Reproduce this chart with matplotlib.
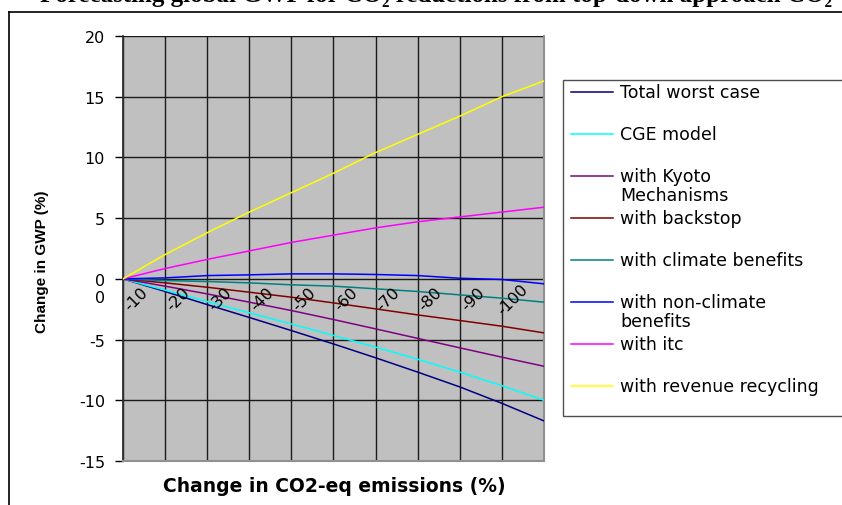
import matplotlib
matplotlib.use("Agg")
import matplotlib.pyplot as plt
from matplotlib.lines import Line2D
from matplotlib.patches import Rectangle
from matplotlib.transforms import offset_copy

plt.rcParams["axes.unicode_minus"] = False

# Change in CO2-eq emissions (%)
emission_change = [0, -10, -20, -30, -40, -50, -60, -70, -80, -90, -100]
tick_labels = ["0", "-10", "-20", "-30", "-40", "-50", "-60", "-70", "-80", "-90", "-100"]

# Change in GWP (%) for each scenario
total_worst_case = [0, -1.04, -2.12, -3.18, -4.26, -5.36, -6.50, -7.68, -8.90, -10.25, -11.70]
cge_model = [0, -0.93, -1.87, -2.80, -3.72, -4.66, -5.62, -6.62, -7.68, -8.80, -10.00]
kyoto = [0, -0.60, -1.24, -1.92, -2.61, -3.35, -4.12, -4.90, -5.68, -6.45, -7.20]
backstop = [0, -0.33, -0.69, -1.10, -1.51, -1.98, -2.47, -2.97, -3.43, -3.90, -4.45]
climate_benefits = [0, -0.14, -0.22, -0.33, -0.49, -0.60, -0.82, -1.04, -1.32, -1.59, -1.92]
non_climate_benefits = [0, 0.08, 0.27, 0.33, 0.41, 0.41, 0.36, 0.27, 0.05, -0.05, -0.41]
itc = [0, 0.85, 1.60, 2.30, 3.00, 3.60, 4.20, 4.70, 5.10, 5.50, 5.90]
revenue_recycling = [0, 2.0, 3.8, 5.5, 7.1, 8.7, 10.4, 11.9, 13.4, 15.0, 16.3]

series = [
    ("Total worst case", total_worst_case, "#000080"),
    ("CGE model", cge_model, "#00FFFF"),
    ("with Kyoto\nMechanisms", kyoto, "#800080"),
    ("with backstop", backstop, "#800000"),
    ("with climate benefits", climate_benefits, "#008080"),
    ("with non-climate\nbenefits", non_climate_benefits, "#0000FF"),
    ("with itc", itc, "#FF00FF"),
    ("with revenue recycling", revenue_recycling, "#FFFF00"),
]

W, H = 842, 506
fig = plt.figure(figsize=(W / 100, H / 100), dpi=100)
fig.patch.set_facecolor("white")

def fx(px):
    return px / W

def fy(py):
    return 1 - py / H

# Outer chart frame
fig.add_artist(Line2D([fx(9), fx(9)], [fy(13), fy(520)], color="black", lw=1.2))
fig.add_artist(Line2D([fx(9), fx(860)], [fy(13), fy(13)], color="black", lw=1.2))

# Title (runs off the top of the canvas)
fig.text(fx(40), fy(2), "Forecasting global GWP for CO\u2082 reductions from top-down approach CO\u2082",
         family=["Liberation Serif", "DejaVu Serif"], fontweight="bold", fontsize=18,
         ha="left", va="baseline")

ax = fig.add_axes([fx(123), fy(462), fx(544) - fx(123), fy(37) - fy(462)])
ax.set_facecolor("#C0C0C0")

for label, values, color in series:
    ax.plot(emission_change, values, color=color, lw=1.1, zorder=3)

ax.set_xlim(0, -100)
ax.set_ylim(-15, 20)
ax.set_yticks(range(-15, 21, 5))
ax.set_xticks(emission_change)
ax.grid(True, color="#1a1a1a", lw=1.0, zorder=1)
ax.set_axisbelow(True)
ax.tick_params(axis="y", direction="out", length=6, width=1, color="black",
               labelsize=11.5, pad=7)
ax.tick_params(axis="x", length=0, labelbottom=False)

ax.spines["left"].set_color("#303030")
ax.spines["left"].set_linewidth(1.3)
ax.spines["top"].set_visible(False)
ax.spines["right"].set_color("#909090")
ax.spines["right"].set_linewidth(1.5)
ax.spines["bottom"].set_color("#909090")
ax.spines["bottom"].set_linewidth(1.5)

# Category labels sit just below the zero line
for i, (xv, txt) in enumerate(zip(emission_change, tick_labels)):
    if i == 0:
        tr = offset_copy(ax.transData, fig=fig, x=-23, y=-19, units="dots")
        ax.text(xv, 0, txt, transform=tr, ha="center", va="center", fontsize=11.5,
                rotation=0, clip_on=False)
    else:
        dx = -29 - 2 * (len(txt) - 3)
        tr = offset_copy(ax.transData, fig=fig, x=dx, y=-20, units="dots")
        ax.text(xv, 0, txt, transform=tr, ha="center", va="center", fontsize=11.5,
                rotation=45, zorder=4)

fig.text(fx(334), fy(487), "Change in CO2-eq emissions (%)", ha="center", va="center",
         fontsize=13.5, fontweight="bold")
fig.text(fx(42), fy(262), "Change in GWP (%)", ha="center", va="center", rotation=90,
         fontsize=11, fontweight="bold", family=["Liberation Sans", "DejaVu Sans"])

# Legend box
fig.add_artist(Rectangle((fx(563), fy(417)), fx(900) - fx(563), fy(81) - fy(417),
                         transform=fig.transFigure, facecolor="white",
                         edgecolor="#505050", lw=1.0))
for k, (label, values, color) in enumerate(series):
    yc = 93 + 42 * k
    fig.add_artist(Line2D([fx(571), fx(613)], [fy(yc), fy(yc)], color=color, lw=1.1))
    fig.text(fx(620), fy(yc - 9), label, ha="left", va="top", fontsize=12.5,
             linespacing=1.05)

fig.savefig("out.png", dpi=100, facecolor="white")
